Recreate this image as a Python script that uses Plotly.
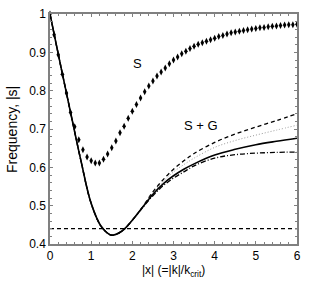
import plotly.graph_objects as go

# S: diamonds every 0.1
s_x = [round(i * 0.1, 1) for i in range(61)]
s_y = [1.000, 0.946, 0.894, 0.843, 0.794, 0.743, 0.706, 0.672, 0.646, 0.627,
       0.617, 0.611, 0.611, 0.621, 0.635, 0.651, 0.669, 0.690, 0.707, 0.728,
       0.746, 0.764, 0.781, 0.797, 0.812, 0.825, 0.838, 0.849, 0.859, 0.870,
       0.880, 0.888, 0.896, 0.903, 0.910, 0.916, 0.921, 0.925, 0.929, 0.933,
       0.937, 0.941, 0.944, 0.948, 0.951, 0.953, 0.955, 0.957, 0.959, 0.961,
       0.962, 0.964, 0.965, 0.967, 0.968, 0.969, 0.970, 0.971, 0.972, 0.972,
       0.973]

# S + G curves
g_x = [0.0, 0.25, 0.5, 0.75, 1.0, 1.25, 1.5, 1.75, 2.0, 2.25, 2.5, 2.75,
       3.0, 3.25, 3.5, 4.0, 4.5, 5.0, 5.5, 6.0]
g_solid = [1.000, 0.870, 0.743, 0.618, 0.506, 0.445, 0.423, 0.434, 0.462,
           0.496, 0.530, 0.557, 0.578, 0.595, 0.609, 0.632, 0.647, 0.659,
           0.668, 0.676]
g_dash = [1.000, 0.870, 0.743, 0.618, 0.506, 0.445, 0.423, 0.434, 0.462,
          0.497, 0.536, 0.568, 0.595, 0.617, 0.636, 0.665, 0.687, 0.705,
          0.722, 0.740]
g_dot = [1.000, 0.870, 0.743, 0.618, 0.506, 0.445, 0.423, 0.434, 0.462,
         0.497, 0.533, 0.563, 0.588, 0.607, 0.624, 0.652, 0.670, 0.684,
         0.697, 0.710]
g_dashdot = [1.000, 0.870, 0.743, 0.618, 0.506, 0.445, 0.423, 0.434, 0.462,
             0.495, 0.526, 0.552, 0.572, 0.588, 0.604, 0.624, 0.633, 0.637,
             0.639, 0.640]

h_x = [0, 6]
h_y = [0.44, 0.44]

x_ticks = [0, 1, 2, 3, 4, 5, 6]
y_ticks = [0.4, 0.5, 0.6, 0.7, 0.8, 0.9, 1.0]
y_ticklabels = ["0.4", "0.5", "0.6", "0.7", "0.8", "0.9", "1"]

FONT = "Liberation Sans, Arial, Helvetica, sans-serif"

fig = go.Figure()
fig.add_trace(go.Scatter(x=h_x, y=h_y, mode="lines",
                         line=dict(color="black", width=1.3, dash="4px,3px")))
fig.add_trace(go.Scatter(x=g_x, y=g_dash, mode="lines", line_shape="spline",
                         line=dict(color="black", width=1.3, dash="4px,3px")))
fig.add_trace(go.Scatter(x=g_x, y=g_dot, mode="lines", line_shape="spline",
                         line=dict(color="#999999", width=1, dash="1px,2px")))
fig.add_trace(go.Scatter(x=g_x, y=g_dashdot, mode="lines", line_shape="spline",
                         line=dict(color="black", width=1.3, dash="5px,2px,1px,2px")))
fig.add_trace(go.Scatter(x=g_x, y=g_solid, mode="lines", line_shape="spline",
                         line=dict(color="black", width=1.6)))
fig.add_trace(go.Scatter(x=s_x, y=s_y, mode="markers",
                         marker=dict(symbol="diamond-tall", size=5, color="black",
                                     line=dict(width=0)), cliponaxis=False))

axis_common = dict(showgrid=False, zeroline=False, showline=True,
                   linecolor="#808080", linewidth=1.5, mirror="allticks",
                   ticks="inside", ticklen=3, tickcolor="#808080", tickwidth=1,
                   tickfont=dict(family=FONT, size=12, color="black"))

fig.update_layout(
    width=319, height=291,
    margin=dict(l=50, r=22, t=7, b=47),
    paper_bgcolor="white", plot_bgcolor="white",
    showlegend=False,
    font=dict(family=FONT, color="black"),
    xaxis=dict(range=[0, 6], tickvals=x_ticks,
               minor=dict(ticks="inside", ticklen=2, dtick=0.2, tickcolor="#808080"),
               **axis_common),
    yaxis=dict(range=[0.4, 1.0], tickvals=y_ticks, ticktext=y_ticklabels,
               minor=dict(ticks="inside", ticklen=2, dtick=0.02, tickcolor="#808080"),
               **axis_common),
    annotations=[
        dict(x=2.12, y=0.872, text="S", showarrow=False,
             font=dict(family=FONT, size=13)),
        dict(x=3.67, y=0.709, text="S + G", showarrow=False,
             font=dict(family=FONT, size=13)),
        dict(x=0.5, y=-0.118, xref="paper", yref="paper",
             xanchor="center", yanchor="middle",
             text="|x| (=|k|/k<sub>crit</sub>)", showarrow=False,
             font=dict(family=FONT, size=12)),
        dict(x=-0.154, y=0.5, xref="paper", yref="paper",
             xanchor="center", yanchor="middle",
             text="Frequency, |s|", textangle=-90, showarrow=False,
             font=dict(family=FONT, size=14)),
    ],
)

fig.write_html("out.html", config={"displayModeBar": False},
               post_script="document.body.style.margin='0';document.body.style.padding='0';")
